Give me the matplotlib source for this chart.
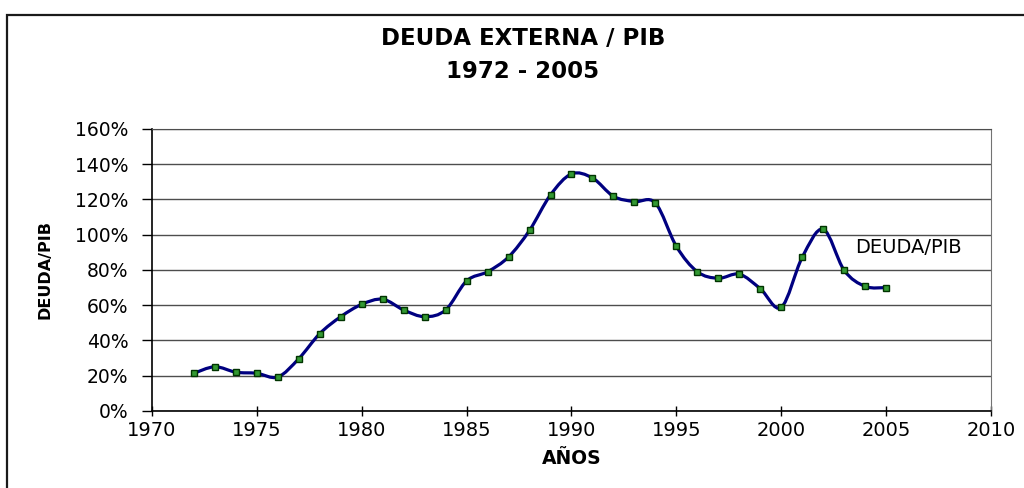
"""
plot.py
-------
Deuda externa / PIB, 1972 - 2005, Excel-style smoothed line with square markers.
"""

import matplotlib
matplotlib.use('Agg')
import matplotlib.pyplot as plt
from matplotlib.path import Path
from matplotlib.patches import PathPatch, Rectangle
from matplotlib.ticker import PercentFormatter, MultipleLocator

# ---------------------------------------------------------------------
# Data (% of PIB)
# ---------------------------------------------------------------------
years = list(range(1972, 2006))
deuda_pib = [
    21.4, 25.1, 22.0, 21.4, 19.3, 29.7, 43.9, 53.5, 60.5, 63.4,
    57.3, 53.5, 57.3, 73.8, 79.0, 87.4, 102.5, 122.6, 134.5, 132.2,
    121.8, 118.8, 118.0, 93.4, 79.0, 75.3, 77.6, 69.4, 58.8, 87.2,
    103.1, 79.8, 70.7, 70.0,
]

title = 'DEUDA EXTERNA / PIB\n1972 - 2005'
series_label = 'DEUDA/PIB'
xlabel = 'AÑOS'
ylabel = 'DEUDA/PIB'

line_color = '#000080'
marker_face = '#339933'
marker_edge = '#003300'
grid_color = '0.3'


# ---------------------------------------------------------------------
# Utilities
# ---------------------------------------------------------------------
def smooth_path(xs, ys):
    """Bezier path through the points, Excel 'smoothed line' style (Catmull-Rom)."""
    pts = list(zip(xs, ys))
    n = len(pts)
    verts = [pts[0]]
    codes = [Path.MOVETO]
    for i in range(n - 1):
        p0 = pts[i - 1] if i > 0 else pts[i]
        p1 = pts[i]
        p2 = pts[i + 1]
        p3 = pts[i + 2] if i + 2 < n else pts[i + 1]
        c1 = (p1[0] + (p2[0] - p0[0]) / 6.0, p1[1] + (p2[1] - p0[1]) / 6.0)
        c2 = (p2[0] - (p3[0] - p1[0]) / 6.0, p2[1] - (p3[1] - p1[1]) / 6.0)
        verts += [c1, c2, p2]
        codes += [Path.CURVE4] * 3
    return Path(verts, codes)


# ---------------------------------------------------------------------
# Figure
# ---------------------------------------------------------------------
plt.rcParams['font.family'] = ['DejaVu Sans']

fig = plt.figure(figsize=(10.24, 4.88), dpi=100)
ax = fig.add_axes([0.1484, 0.1578, 0.8194, 0.5779])

# outer chart border (runs off the right and bottom edges)
border_top = 1 - 15 / 488
fig.patches.append(Rectangle((7 / 1024, -0.2), 1.2, border_top + 0.2,
                             transform=fig.transFigure, fill=False,
                             edgecolor='#1a1a1a', linewidth=1.6))

# smoothed line + markers
ax.add_patch(PathPatch(smooth_path(years, deuda_pib), facecolor='none',
                       edgecolor=line_color, linewidth=2.3, zorder=3))
ax.plot(years, deuda_pib, linestyle='none', marker='s', markersize=4.5,
        markerfacecolor=marker_face, markeredgecolor=marker_edge,
        markeredgewidth=1.0, zorder=4)

ax.text(2003.5, 92.5, series_label, fontsize=14, ha='left', va='center')

# axes
ax.set_xlim(1970, 2010)
ax.set_ylim(0, 160)
ax.xaxis.set_major_locator(MultipleLocator(5))
ax.yaxis.set_major_locator(MultipleLocator(20))
ax.yaxis.set_major_formatter(PercentFormatter(xmax=100, decimals=0))
ax.grid(axis='y', color=grid_color, linewidth=1.0)
ax.set_axisbelow(True)

ax.tick_params(axis='x', direction='inout', length=7, width=1, labelsize=14, pad=4)
ax.tick_params(axis='y', direction='out', length=7, width=1, labelsize=13.5, pad=10)

for side in ['left', 'bottom']:
    ax.spines[side].set_color('black')
    ax.spines[side].set_linewidth(1.2)
ax.spines['right'].set_color('0.45')
ax.spines['top'].set_color(grid_color)

ax.set_xlabel(xlabel, fontsize=13.5, fontweight='bold', labelpad=6)
ax.set_ylabel(ylabel, fontsize=11.5, fontweight='bold')
ax.yaxis.set_label_coords(-0.118, 0.5)

fig.text(523 / 1024, 1 - 55 / 488, title, fontsize=16.5, fontweight='bold',
         ha='center', va='center', linespacing=1.55)

plt.savefig('out.png', dpi=100)
